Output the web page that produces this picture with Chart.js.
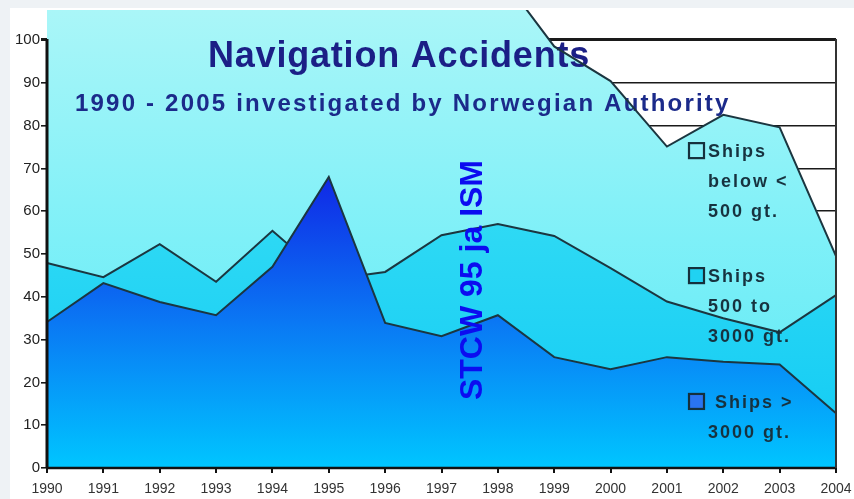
<!DOCTYPE html>
<html lang="en">
<head>
<script src="https://cdn.jsdelivr.net/npm/chart.js@4.4.1/dist/chart.umd.min.js"></script>
<title>Navigation Accidents</title>
<style>
  body { margin: 0; background: #eef2f5; }
  .container { position: absolute; left: 10px; top: 8px; width: 844px; height: 491px; background: #fff; }
</style>
</head>
<body>
<div class="container"><canvas id="myChart"></canvas></div>
<script>
// categories
const years = ['1990', '1991', '1992', '1993', '1994', '1995', '1996', '1997',
               '1998', '1999', '2000', '2001', '2002', '2003', '2004'];
// area heights (areas overlap, biggest drawn behind)
const bigShips   = [34.1, 43.2, 38.8, 35.7, 47, 68, 33.9, 30.8, 35.7, 25.9, 23.1, 25.9, 24.8, 24.2, 12.8];
const midShips   = [47.9, 44.6, 52.3, 43.5, 55.4, 44, 45.8, 54.4, 57, 54.2, 46.7, 38.9, 35, 31.7, 40.4];
const smallShips = [110, 110, 111, 112, 113, 114, 114, 115, 116, 98.5, 90.4, 75.1, 82.5, 79.6, 49.5];
const yTicks = [0, 10, 20, 30, 40, 50, 60, 70, 80, 90, 100];
const legendLines = [
    ['Ships', 'below <', '500 gt.'],
    ['Ships', '500 to', '3000 gt.'],
    [' Ships >', '3000 gt.']
];

function grad(stops) {
    return function(context) {
        const chart = context.chart;
        const area = chart.chartArea;
        if (!area) return stops[stops.length - 1][1];
        const y = chart.scales.y;
        const g = chart.ctx.createLinearGradient(0, y.getPixelForValue(stops[0][0]), 0, y.getPixelForValue(stops[stops.length - 1][0]));
        stops.forEach((s, i) => g.addColorStop(i / (stops.length - 1), s[1]));
        return g;
    };
}

const lineColor = '#1b3640';

// texts and frame drawn on top of the areas
const decor = {
    id: 'decor',
    beforeDatasetDraw(chart, args) {
        // titles go over the light fill but under its outline
        if (args.index !== 2) return;
        const ctx = chart.ctx;
        ctx.save();
        ctx.fillStyle = '#1b1f86';
        ctx.font = 'bold 36px "Liberation Sans", Arial, sans-serif';
        ctx.letterSpacing = '0.8px';
        ctx.textAlign = 'center';
        ctx.fillText('Navigation Accidents', 389, 59);
        ctx.fillStyle = '#1b2a8a';
        ctx.font = 'bold 24px "Liberation Sans", Arial, sans-serif';
        ctx.letterSpacing = '2.2px';
        ctx.textAlign = 'left';
        ctx.fillText('1990 - 2005 investigated by Norwegian Authority', 65, 103);
        ctx.restore();
    },
    afterDatasetsDraw(chart) {
        const {ctx, chartArea, scales} = chart;
        const y = scales.y;
        ctx.save();
        // frame
        ctx.strokeStyle = '#111';
        ctx.lineWidth = 3;
        ctx.beginPath();
        ctx.moveTo(chartArea.left, y.getPixelForValue(100) - 1);
        ctx.lineTo(chartArea.left, chartArea.bottom);
        ctx.stroke();
        ctx.lineWidth = 2.5;
        ctx.beginPath();
        ctx.moveTo(chartArea.left, chartArea.bottom);
        ctx.lineTo(chartArea.right, chartArea.bottom);
        ctx.stroke();
        ctx.strokeStyle = '#333';
        ctx.lineWidth = 2;
        ctx.beginPath();
        ctx.moveTo(chartArea.right, y.getPixelForValue(100) - 1);
        ctx.lineTo(chartArea.right, chartArea.bottom);
        ctx.stroke();

        // vertical note
        ctx.save();
        ctx.translate(472, 272);
        ctx.rotate(-Math.PI / 2);
        ctx.fillStyle = '#0c0cf0';
        ctx.font = 'bold 32px "Liberation Sans", Arial, sans-serif';
        ctx.textAlign = 'center';
        ctx.fillText('STCW 95 ja ISM', 0, 0);
        ctx.restore();

        // legend
        const boxColors = ['#8ef2f8', '#20d2f2', '#2a74f0'];
        const anchors = [75.9, 46.7, 17.3];
        const bx = chartArea.right - 147;
        ctx.font = 'bold 18px "Liberation Sans", Arial, sans-serif';
        ctx.letterSpacing = '2px';
        ctx.textAlign = 'left';
        legendLines.forEach((lines, i) => {
            const by = y.getPixelForValue(anchors[i]);
            ctx.fillStyle = boxColors[i];
            ctx.fillRect(bx, by, 15, 15);
            ctx.strokeStyle = '#15303c';
            ctx.lineWidth = 2.2;
            ctx.strokeRect(bx, by, 15, 15);
            ctx.fillStyle = '#17323f';
            lines.forEach((t, j) => ctx.fillText(t, bx + 19, by + 14 + j * 30));
        });
        ctx.restore();
    }
};

let myChart = document.getElementById('myChart').getContext('2d');
let areaChart = new Chart(myChart, {
    type: 'line',
    data: {
        labels: years,
        datasets: [{
            label: 'Ships > 3000 gt.',
            data: bigShips,
            fill: 'origin',
            backgroundColor: grad([[68, '#1028e6'], [40, '#0a78f4'], [0, '#00c6ff']]),
            borderColor: lineColor,
            borderWidth: 2,
            pointRadius: 0,
        }, {
            label: 'Ships 500 to 3000 gt.',
            data: midShips,
            fill: 'origin',
            backgroundColor: grad([[60, '#30daf4'], [0, '#10caf4']]),
            borderColor: lineColor,
            borderWidth: 2,
            pointRadius: 0,
        }, {
            label: 'Ships below < 500 gt.',
            data: smallShips,
            fill: 'origin',
            backgroundColor: grad([[107, '#aaf6f8'], [60, '#7ef0f8'], [0, '#5ae8f4']]),
            borderColor: lineColor,
            borderWidth: 2,
            pointRadius: 0,
        }]
    },
    options: {
        responsive: true,
        maintainAspectRatio: false,
        animation: false,
        layout: { padding: { top: 2, right: 18, left: 0, bottom: 0 } },
        elements: { line: { tension: 0 } },
        plugins: {
            legend: { display: false },
            tooltip: { enabled: false },
        },
        scales: {
            x: {
                offset: false,
                afterFit: (s) => { s.height = 31; s.paddingLeft = 0; s.paddingRight = 0; },
                grid: { drawOnChartArea: false, color: '#111', lineWidth: 2, tickLength: 5 },
                border: { display: false },
                ticks: {
                    color: '#333',
                    padding: 8,
                    maxRotation: 0,
                    autoSkip: false,
                    font: { family: '"Liberation Sans Narrow", "Arial Narrow", "Liberation Sans", sans-serif', size: 14 }
                }
            },
            y: {
                min: 0,
                max: 107,
                afterBuildTicks: (s) => { s.ticks = yTicks.map(v => ({value: v})); },
                afterFit: (s) => { s.width = 37; s.paddingTop = 0; s.paddingBottom = 0; },
                grid: {
                    color: '#1a1a1a',
                    lineWidth: (c) => (c.tick && c.tick.value === 100 ? 3 : 1.6),
                    tickLength: 6
                },
                border: { display: false },
                ticks: {
                    color: '#222',
                    padding: 1,
                    font: { family: '"Liberation Sans", Arial, sans-serif', size: 15 }
                }
            }
        }
    },
    plugins: [decor]
});
</script>
</body>
</html>
